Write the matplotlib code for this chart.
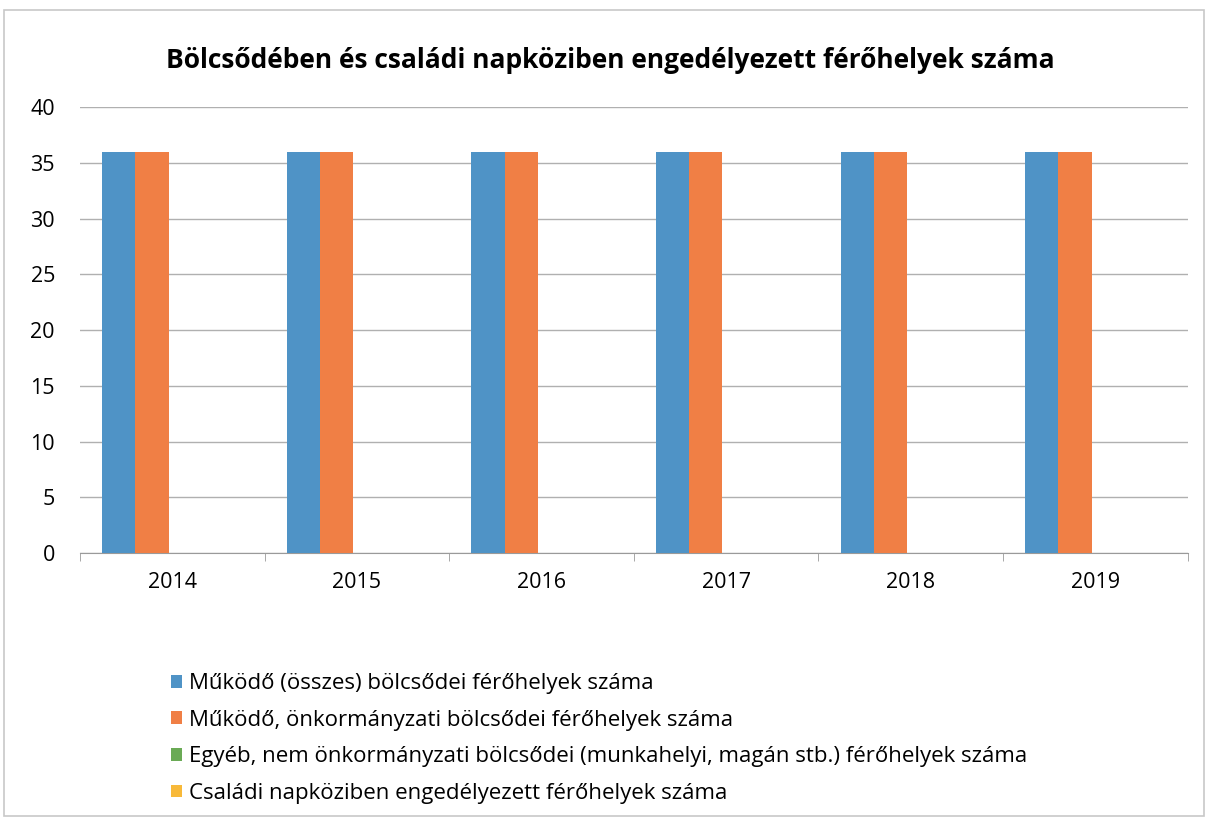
import matplotlib
matplotlib.use("Agg")
import matplotlib.pyplot as plt
import numpy as np

years = ["2014", "2015", "2016", "2017", "2018", "2019"]
series_names = [
    "Működő (összes) bölcsődei férőhelyek száma",
    "Működő, önkormányzati bölcsődei férőhelyek száma",
    "Egyéb, nem önkormányzati bölcsődei (munkahelyi, magán stb.) férőhelyek száma",
    "Családi napköziben engedélyezett férőhelyek száma",
]
osszes = [36, 36, 36, 36, 36, 36]
onkormanyzati = [36, 36, 36, 36, 36, 36]
egyeb = [0, 0, 0, 0, 0, 0]
csaladi = [0, 0, 0, 0, 0, 0]
colors = ["#4f93c6", "#f07f45", "#6aaa55", "#f8b939"]

plt.rcParams['font.family'] = ['Open Sans', 'DejaVu Sans']

fig = plt.figure(figsize=(12.08, 8.18), dpi=100)
ax = fig.add_axes([0.0662, 0.324, 0.917, 0.545])

x = np.arange(len(years))
w = 0.18
data = [osszes, onkormanyzati, egyeb, csaladi]
for i, (vals, c, name) in enumerate(zip(data, colors, series_names)):
    ax.bar(x + (i - 1.5) * w - 0.02, vals, width=w, color=c, label=name, zorder=3)

ax.set_xlim(-0.5, len(years) - 0.5)
ax.set_ylim(0, 40)
ax.set_yticks(range(0, 41, 5))
ax.yaxis.grid(True, color="#b0b0b0", linewidth=1.0, zorder=0)
ax.set_xticks(x)
ax.set_xticklabels(years)
ax.set_xticks(np.arange(-0.5, len(years), 1.0), minor=True)
ax.tick_params(axis='x', which='major', length=0, labelsize=15.5, pad=14)
ax.tick_params(axis='x', which='minor', length=6, color="#9a9a9a")
ax.tick_params(axis='y', length=0, labelsize=15.5, pad=18)
for s in ["left", "right", "top"]:
    ax.spines[s].set_visible(False)
ax.spines["bottom"].set_color("#9a9a9a")

fig.suptitle("Bölcsődében és családi napköziben engedélyezett férőhelyek száma",
             x=0.505, y=0.943, fontsize=19, fontweight='bold')

leg = fig.legend(loc="upper left", bbox_to_anchor=(0.134, 0.188), frameon=False,
                 fontsize=16, handlelength=0.5, handleheight=0.5,
                 handletextpad=0.3, labelspacing=0.7, borderaxespad=0)

border = plt.Rectangle((0.003, 0.003), 0.994, 0.985, transform=fig.transFigure,
                       fill=False, edgecolor="#c8c8c8", linewidth=1.2)
fig.patches.append(border)

fig.savefig("out.png", dpi=100)
